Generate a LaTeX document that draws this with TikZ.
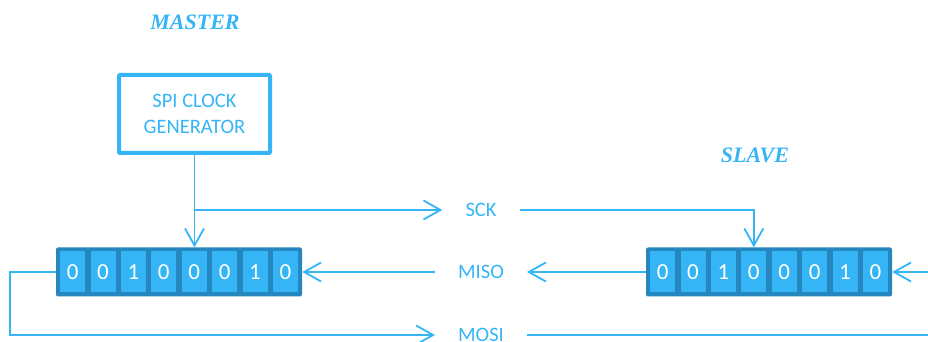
\documentclass[tikz,border=0pt]{standalone}
\usepackage{fontspec}
\setmainfont{Carlito}
\newfontfamily\titlefont{Liberation Serif}
\usetikzlibrary{calc, positioning, arrows.meta}
\definecolor{spiblue}{HTML}{35B5F6}
\definecolor{regblue}{HTML}{2586C0}
\newcommand{\register}[3]{
    % #1: name
    % #2: x
    % #3: y
    \node[reg] (#1) at (#2,#3) {};
    \foreach \bit [count=\i] in {0,0,1,0,0,0,1,0} {
        \node[bitcell] (#1-\i) at ($(#1.center)+({(\i-4.5)*30.4},0)$) {\bit};
    }
}

\begin{document}
\begin{tikzpicture}[x=1pt, y=1pt, >={Straight Barb[length=17pt, width=19pt]}]
    % shift register (outer frame and one cell)
    \tikzstyle{reg}=[fill=regblue, rounded corners=2pt, minimum width=246pt, minimum height=49pt, inner sep=0]
    \tikzstyle{bitcell}=[fill=spiblue, minimum width=25pt, minimum height=41pt, inner sep=0, text=white, font=\fontsize{23}{26}\selectfont]
    % signal names and wires
    \tikzstyle{sig}=[text=spiblue, inner xsep=23pt, inner ysep=0, font=\fontsize{20.5}{24}\selectfont]
    \tikzstyle{wire}=[draw=spiblue, line width=1.8pt]
    \tikzstyle{title}=[text=spiblue, font=\titlefont\bfseries\itshape\fontsize{22}{26}\selectfont]
    \clip (0,0) rectangle (928,342);

    % Master side
    \node[title] (master) at (195,320) {MASTER};
    \node[draw=spiblue, line width=4pt, rounded corners=1pt, minimum width=151pt, minimum height=78pt,
          align=center, text=spiblue, font=\fontsize{20.5}{26}\selectfont] (gen) at (194.5,228) {SPI CLOCK\\GENERATOR};
    \register{mreg}{179}{70}

    % Slave side
    \node[title] (slave) at (755,187) {SLAVE};
    \register{sreg}{769}{70}

    % Signals
    \node[sig] (sck) at (481,132) {SCK};
    \node[sig] (miso) at (481,70) {MISO};
    \node[sig] (mosi) at (481,7) {MOSI};
    \coordinate (fork) at (gen.south |- sck.west);
    \coordinate (loop) at (10,7);
    \coordinate (sin) at (928,70);
    \coordinate (mout) at (928,7);

    \draw[wire, ->] (gen.south) -- (gen.south |- mreg.north);
    \draw[wire, ->] (fork) -- (sck.west);
    \draw[wire, ->] (sck.east) -| (sreg-4.north |- sreg.north);
    \draw[wire, ->] (miso.west) -- (mreg.east);
    \draw[wire, ->] (sreg.west) -- (miso.east);
    \draw[wire, ->] (sin) -- (sreg.east);
    \draw[wire, ->] (mreg.west) -| (loop) -- (mosi.west);
    \draw[wire] (mosi.east) -- (mout);
\end{tikzpicture}
\end{document}
